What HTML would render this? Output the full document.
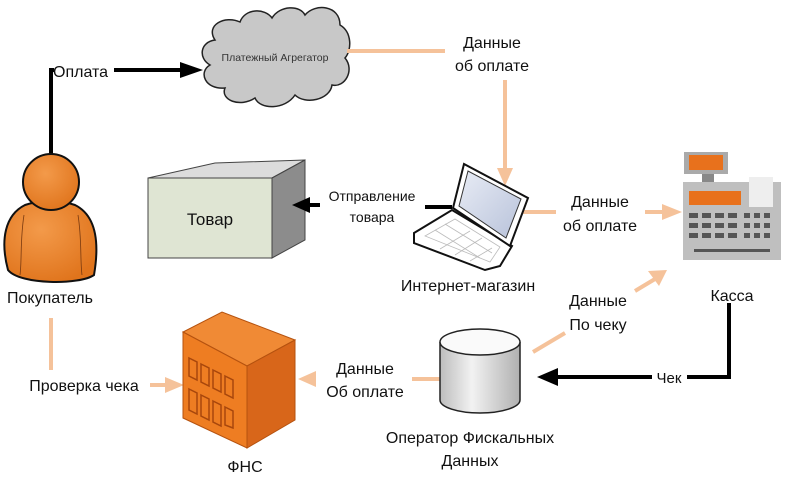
<!DOCTYPE html>
<html><head><meta charset="utf-8"><style>
html,body{margin:0;padding:0;background:#fff;}
svg{display:block;font-family:"Liberation Sans",sans-serif;}
</style></head><body>
<svg width="800" height="477" viewBox="0 0 800 477" xmlns="http://www.w3.org/2000/svg">
<defs>
<radialGradient id="og" cx="0.4" cy="0.35" r="0.7"><stop offset="0" stop-color="#f39a4a"/><stop offset="1" stop-color="#e0741c"/></radialGradient>
<linearGradient id="cyl" x1="0" x2="1"><stop offset="0" stop-color="#bdbdbd"/><stop offset="0.4" stop-color="#f2f2f2"/><stop offset="1" stop-color="#b0b0b0"/></linearGradient>
<linearGradient id="scr" x1="0" y1="0" x2="1" y2="1"><stop offset="0" stop-color="#e8ecf5"/><stop offset="1" stop-color="#b8c2da"/></linearGradient>
</defs>
<g font-size="16" fill="#111">
<path d="M51,160 V70 H54" stroke="#000" stroke-width="4" fill="none"/>
<text x="53" y="77" font-size="16">Оплата</text>
<line x1="114" y1="70" x2="185" y2="70" stroke="#000" stroke-width="4"/>
<polygon points="180,62 203,70 180,78" fill="#000"/>
<path d="M215,40 C205,25 225,15 240,22 C245,8 265,8 272,18 C280,5 300,5 305,15 C315,3 340,5 340,25 C352,32 352,50 345,58 C355,70 345,88 332,85 C330,100 305,105 295,95 C285,110 260,110 255,98 C240,108 220,100 225,88 C205,90 198,72 210,65 C198,58 200,42 215,40 Z" fill="#c8c8c8" stroke="#222" stroke-width="1.5"/>
<text x="275" y="61" font-size="10.5" text-anchor="middle" fill="#333">Платежный Агрегатор</text>
<g stroke="#f5c29a" stroke-width="4" fill="none">
<line x1="347" y1="51" x2="445" y2="51"/>
<line x1="505" y1="80" x2="505" y2="170"/>
<line x1="522" y1="212" x2="556" y2="212"/>
<line x1="645" y1="212" x2="665" y2="212"/>
<line x1="533" y1="352" x2="565" y2="333"/>
<line x1="635" y1="291" x2="655" y2="279"/>
<line x1="440" y1="379" x2="412" y2="379"/>
<line x1="51" y1="318" x2="51" y2="370"/>
<line x1="150" y1="385" x2="168" y2="385"/>
</g>
<g fill="#f5c29a">
<polygon points="497,168 513,168 505,186"/>
<polygon points="662,204 682,212 662,220"/>
<polygon points="648,271 667,270 659,286"/>
<polygon points="316,371 298,379 316,387"/>
<polygon points="165,377 184,385 165,393"/>
</g>
<text x="492" y="48" text-anchor="middle">Данные</text>
<text x="492" y="71" text-anchor="middle">об оплате</text>
<path d="M8,270 C0,240 5,215 25,205 C40,200 60,200 75,205 C95,215 100,240 94,275 C80,285 20,285 8,270 Z" fill="url(#og)" stroke="#111" stroke-width="2"/>
<circle cx="51" cy="182" r="28" fill="url(#og)" stroke="#111" stroke-width="2"/>
<path d="M24,215 C20,240 22,260 20,275 M78,215 C82,240 80,260 82,275" stroke="#7a3a10" stroke-width="0.8" fill="none"/>
<text x="50" y="303" text-anchor="middle">Покупатель</text>
<text x="84" y="391" text-anchor="middle">Проверка чека</text>
<polygon points="148,178 272,178 305,160 215,163" fill="#dcdcdc" stroke="#444" stroke-width="1"/>
<polygon points="272,178 305,160 305,240 272,258" fill="#8c8c8c" stroke="#444" stroke-width="1"/>
<rect x="148" y="178" width="124" height="80" fill="#dfe5d3" stroke="#444" stroke-width="1"/>
<text x="210" y="225" font-size="17" text-anchor="middle">Товар</text>
<line x1="320" y1="205" x2="305" y2="205" stroke="#000" stroke-width="4"/>
<polygon points="310,197 292,205 310,213" fill="#000"/>
<text x="372" y="201" font-size="14" text-anchor="middle">Отправление</text>
<text x="372" y="222" font-size="14" text-anchor="middle">товара</text>
<line x1="425" y1="207" x2="452" y2="207" stroke="#000" stroke-width="4"/>
<polygon points="414,233 452,210 512,246 500,266 485,270 414,243" fill="#fff" stroke="#111" stroke-width="2"/>
<polygon points="453,208 464,164 528,198 510,246" fill="#fff" stroke="#111" stroke-width="2"/>
<polygon points="459,206 468,171 521,199 506,238" fill="url(#scr)" stroke="#333" stroke-width="1"/>
<g stroke="#bbb" stroke-width="0.8" fill="none">
<path d="M425,236 L455,219 L500,247 L490,262 Z"/>
<path d="M435,230 L480,258 M445,224 L492,253 M440,249 L470,231 M455,255 L482,238 M470,261 L492,248"/>
</g>
<text x="468" y="291" text-anchor="middle">Интернет-магазин</text>
<text x="600" y="207" text-anchor="middle">Данные</text>
<text x="600" y="231" text-anchor="middle">об оплате</text>
<rect x="684" y="152" width="44" height="22" fill="#aaa"/>
<rect x="689" y="155" width="34" height="15" fill="#e8711c"/>
<rect x="702" y="174" width="12" height="8" fill="#888"/>
<rect x="683" y="182" width="98" height="78" fill="#bfbfbf"/>
<rect x="749" y="177" width="24" height="30" fill="#eee"/>
<rect x="689" y="191" width="52" height="14" fill="#e8711c"/>
<g fill="#555">
<rect x="689" y="213" width="9" height="5"/><rect x="702" y="213" width="9" height="5"/><rect x="715" y="213" width="9" height="5"/><rect x="728" y="213" width="9" height="5"/><rect x="744" y="213" width="6" height="5"/><rect x="754" y="213" width="6" height="5"/><rect x="764" y="213" width="6" height="5"/>
<rect x="689" y="223" width="9" height="5"/><rect x="702" y="223" width="9" height="5"/><rect x="715" y="223" width="9" height="5"/><rect x="728" y="223" width="9" height="5"/><rect x="744" y="223" width="6" height="5"/><rect x="754" y="223" width="6" height="5"/><rect x="764" y="223" width="6" height="5"/>
<rect x="689" y="233" width="9" height="5"/><rect x="702" y="233" width="9" height="5"/><rect x="715" y="233" width="9" height="5"/><rect x="728" y="233" width="9" height="5"/><rect x="744" y="233" width="6" height="5"/><rect x="754" y="233" width="6" height="5"/><rect x="764" y="233" width="6" height="5"/>
<rect x="694" y="249" width="76" height="3"/>
</g>
<text x="732" y="301" text-anchor="middle">Касса</text>
<text x="598" y="306" text-anchor="middle">Данные</text>
<text x="598" y="330" text-anchor="middle">По чеку</text>
<path d="M729,303 V377 H687" stroke="#000" stroke-width="4" fill="none"/>
<line x1="652" y1="377" x2="555" y2="377" stroke="#000" stroke-width="4"/>
<polygon points="558,368 537,377 558,386" fill="#000"/>
<text x="669" y="383" font-size="15" text-anchor="middle">Чек</text>
<path d="M440,342 V400 A40,13 0 0 0 520,400 V342" fill="url(#cyl)" stroke="#222" stroke-width="1.5"/>
<ellipse cx="480" cy="342" rx="40" ry="13" fill="#fafafa" stroke="#222" stroke-width="1.5"/>
<text x="470" y="443" text-anchor="middle">Оператор Фискальных</text>
<text x="470" y="466" text-anchor="middle">Данных</text>
<text x="365" y="374" text-anchor="middle">Данные</text>
<text x="365" y="397" text-anchor="middle">Об оплате</text>
<polygon points="183,332 247,366 295,340 222,312" fill="#f08a35" stroke="#b5520f" stroke-width="1"/>
<polygon points="247,366 295,340 295,420 247,448" fill="#d8661a" stroke="#b5520f" stroke-width="1"/>
<polygon points="183,332 247,366 247,448 183,418" fill="#ee7d22" stroke="#b5520f" stroke-width="1"/>
<g fill="none" stroke="#a8470c" stroke-width="1.5">
<polygon points="189,358 197,362 197,380 189,376"/><polygon points="201,364 209,368 209,386 201,382"/><polygon points="213,370 221,374 221,392 213,388"/><polygon points="225,376 233,380 233,398 225,394"/>
<polygon points="189,389 197,393 197,414 189,410"/><polygon points="201,395 209,399 209,420 201,416"/><polygon points="213,401 221,405 221,426 213,422"/><polygon points="225,407 233,411 233,428 225,425"/>
</g>
<text x="245" y="472" text-anchor="middle">ФНС</text>
</g>
</svg>
</body></html>
